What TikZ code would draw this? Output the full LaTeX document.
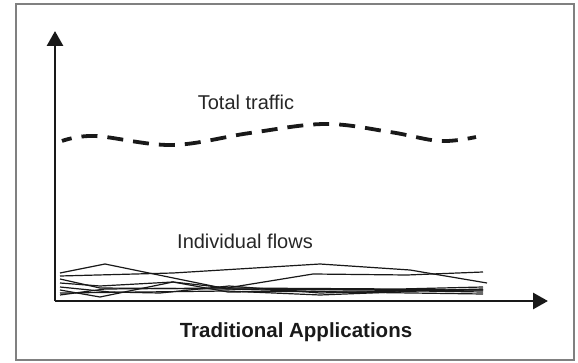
\documentclass[tikz,border=0pt]{standalone}
\usepackage{fontspec}
\setmainfont{Liberation Sans}
\usetikzlibrary{arrows.meta}

\begin{document}
\begin{tikzpicture}[
    x=1pt, y=-1pt,
    frame/.style={draw=black!50, line width=1.6pt},
    axis/.style={-{Triangle[length=15pt,width=16pt]}, line width=2.8pt, color=black!90},
    total/.style={line width=3.8pt, dash pattern=on 16pt off 10pt, dash phase=6pt, color=black!90},
    flow/.style={line width=1.2pt, color=black!90, line join=round},
    label/.style={font=\fontsize{20}{23}\selectfont, text=black!85},
    caption/.style={font=\fontsize{20.5}{23}\selectfont\bfseries, text=black!90}
]
\useasboundingbox (0,0) rectangle (578,363);

% Frame
\draw[frame] (16,4) rectangle (574,360);

% Axes
\coordinate (O) at (55,301);
\coordinate (ytip) at (55,31);
\coordinate (xtip) at (548,301);
\draw[axis] (O) -- (ytip);
\draw[axis] (O) -- (xtip);

% Total traffic
\node[label] (total) at (246,102) {Total traffic};
\draw[total] plot[smooth, tension=0.6] coordinates {(62,141) (95,136) (172,145) (250,133) (325,124) (390,132) (440,141) (476,137)};

% Individual flows
\node[label] (flows) at (245,241) {Individual flows};
\draw[flow] (60,273) -- (105,264) -- (227,289) -- (483,290);
\draw[flow] (60,276) -- (173,273) -- (320,264) -- (410,270) -- (487,283);
\draw[flow] (60,283) -- (100,286) -- (173,282) -- (227,288) -- (313,274) -- (407,275) -- (483,272);
\draw[flow] (60,290) -- (100,297) -- (173,282) -- (228,292) -- (483,290);
\draw[flow] (60,287) -- (110,292) -- (160,293) -- (229,286) -- (320,293) -- (483,289);
\draw[flow] (60,293) -- (227,291) -- (320,295) -- (420,291) -- (483,292);
\draw[flow] (60,295) -- (105,289) -- (227,288) -- (400,289) -- (483,287);
\draw[flow] (60,279) -- (100,288) -- (227,289) -- (340,292) -- (483,294);

% Caption
\node[caption] (title) at (296,332) {Traditional Applications};

\end{tikzpicture}
\end{document}
